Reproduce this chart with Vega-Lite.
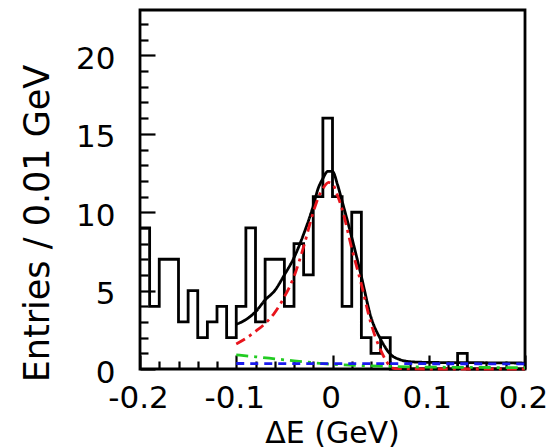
{
  "$schema": "https://vega.github.io/schema/vega-lite/v6.json",
  "width": 385,
  "height": 359,
  "autosize": "none",
  "padding": {"left": 140, "top": 10, "right": 32, "bottom": 79},
  "background": "white",
  "config": {
    "view": {"stroke": "black", "strokeWidth": 2.8},
    "axis": {"labelFont": "DejaVu Sans", "titleFont": "DejaVu Sans", "labelColor": "black", "titleColor": "black", "tickColor": "black", "grid": false, "domain": false, "tickWidth": 2.2, "labelFontWeight": "normal", "titleFontWeight": "normal"}
  },
  "datasets": {
    "hist": [
      {"de": -0.20, "n": 9}, {"de": -0.19, "n": 4}, {"de": -0.18, "n": 7}, {"de": -0.17, "n": 7},
      {"de": -0.16, "n": 3}, {"de": -0.15, "n": 5}, {"de": -0.14, "n": 2}, {"de": -0.13, "n": 3},
      {"de": -0.12, "n": 4}, {"de": -0.11, "n": 2}, {"de": -0.10, "n": 4}, {"de": -0.09, "n": 9},
      {"de": -0.08, "n": 3}, {"de": -0.07, "n": 7}, {"de": -0.06, "n": 7}, {"de": -0.05, "n": 4},
      {"de": -0.04, "n": 8}, {"de": -0.03, "n": 6}, {"de": -0.02, "n": 11}, {"de": -0.01, "n": 16},
      {"de": 0.00, "n": 11}, {"de": 0.01, "n": 4}, {"de": 0.02, "n": 10}, {"de": 0.03, "n": 2},
      {"de": 0.04, "n": 1}, {"de": 0.05, "n": 2}, {"de": 0.06, "n": 0}, {"de": 0.07, "n": 0},
      {"de": 0.08, "n": 0}, {"de": 0.09, "n": 0}, {"de": 0.10, "n": 0}, {"de": 0.11, "n": 0},
      {"de": 0.12, "n": 0}, {"de": 0.13, "n": 1}, {"de": 0.14, "n": 0}, {"de": 0.15, "n": 0},
      {"de": 0.16, "n": 0}, {"de": 0.17, "n": 0}, {"de": 0.18, "n": 0}, {"de": 0.19, "n": 0},
      {"de": 0.20, "n": 0}
    ],
    "fit": [
      {"comp": "total", "de": -0.1, "y": 2.85}, {"comp": "total", "de": -0.09, "y": 3.15},
      {"comp": "total", "de": -0.08, "y": 3.65}, {"comp": "total", "de": -0.07, "y": 4.4},
      {"comp": "total", "de": -0.06, "y": 5.0}, {"comp": "total", "de": -0.05, "y": 6.0},
      {"comp": "total", "de": -0.04, "y": 7.1}, {"comp": "total", "de": -0.03, "y": 8.6},
      {"comp": "total", "de": -0.02, "y": 10.4}, {"comp": "total", "de": -0.015, "y": 11.5},
      {"comp": "total", "de": -0.01, "y": 12.15}, {"comp": "total", "de": -0.005, "y": 12.6},
      {"comp": "total", "de": 0.0, "y": 12.6}, {"comp": "total", "de": 0.005, "y": 11.8},
      {"comp": "total", "de": 0.01, "y": 10.7}, {"comp": "total", "de": 0.02, "y": 8.4},
      {"comp": "total", "de": 0.03, "y": 5.9}, {"comp": "total", "de": 0.04, "y": 3.3},
      {"comp": "total", "de": 0.05, "y": 1.9}, {"comp": "total", "de": 0.06, "y": 0.95},
      {"comp": "total", "de": 0.07, "y": 0.6}, {"comp": "total", "de": 0.08, "y": 0.47},
      {"comp": "total", "de": 0.1, "y": 0.42}, {"comp": "total", "de": 0.15, "y": 0.4},
      {"comp": "total", "de": 0.2, "y": 0.38},
      {"comp": "signal", "de": -0.1, "y": 1.6}, {"comp": "signal", "de": -0.09, "y": 1.95},
      {"comp": "signal", "de": -0.08, "y": 2.4}, {"comp": "signal", "de": -0.07, "y": 2.9},
      {"comp": "signal", "de": -0.06, "y": 3.6}, {"comp": "signal", "de": -0.05, "y": 4.6},
      {"comp": "signal", "de": -0.04, "y": 5.9}, {"comp": "signal", "de": -0.03, "y": 7.8},
      {"comp": "signal", "de": -0.02, "y": 10.0}, {"comp": "signal", "de": -0.015, "y": 10.9},
      {"comp": "signal", "de": -0.01, "y": 11.5}, {"comp": "signal", "de": -0.004, "y": 11.9},
      {"comp": "signal", "de": 0.0, "y": 11.8}, {"comp": "signal", "de": 0.005, "y": 11.1},
      {"comp": "signal", "de": 0.01, "y": 10.2}, {"comp": "signal", "de": 0.02, "y": 7.7},
      {"comp": "signal", "de": 0.03, "y": 5.4}, {"comp": "signal", "de": 0.04, "y": 2.9},
      {"comp": "signal", "de": 0.05, "y": 1.2}, {"comp": "signal", "de": 0.055, "y": 0.6},
      {"comp": "signal", "de": 0.06, "y": 0.15}, {"comp": "signal", "de": 0.065, "y": 0.03},
      {"comp": "signal", "de": 0.1, "y": 0.0}, {"comp": "signal", "de": 0.2, "y": 0.0},
      {"comp": "bkg2", "de": -0.1, "y": 0.9}, {"comp": "bkg2", "de": -0.08, "y": 0.78},
      {"comp": "bkg2", "de": -0.06, "y": 0.65}, {"comp": "bkg2", "de": -0.04, "y": 0.52},
      {"comp": "bkg2", "de": -0.02, "y": 0.4}, {"comp": "bkg2", "de": 0.0, "y": 0.3},
      {"comp": "bkg2", "de": 0.05, "y": 0.18}, {"comp": "bkg2", "de": 0.1, "y": 0.12},
      {"comp": "bkg2", "de": 0.15, "y": 0.1}, {"comp": "bkg2", "de": 0.2, "y": 0.08},
      {"comp": "bkg1", "de": -0.1, "y": 0.35}, {"comp": "bkg1", "de": 0.2, "y": 0.33}
    ]
  },
  "layer": [
    {
      "data": {"name": "hist"},
      "mark": {"type": "line", "interpolate": "step-after", "color": "black", "strokeWidth": 2.8},
      "encoding": {
        "x": {"field": "de", "type": "quantitative", "scale": {"domain": [-0.2, 0.2], "nice": false, "zero": false},
          "axis": {"orient": "bottom", "values": [-0.2, -0.1, 0, 0.1, 0.2], "tickSize": -14, "labelPadding": 28, "labelFontSize": 31, "labelFlush": false, "labelOverlap": false, "labelOffset": -2,
            "labelExpr": "datum.value < 0 ? '-' + format(abs(datum.value), '.1~f') : format(datum.value, '.1~f')",
            "title": "ΔE (GeV)", "titleFontSize": 30, "titleBaseline": "alphabetic", "titleY": 73, "titleX": 192}},
        "y": {"field": "n", "type": "quantitative", "scale": {"domain": [0, 22.9], "nice": false},
          "axis": {"orient": "left", "values": [0, 5, 10, 15, 20], "tickSize": -15, "labelPadding": 40, "labelFontSize": 31, "labelOverlap": false, "labelOffset": 4,
            "title": "Entries / 0.01 GeV", "titleFontSize": 35, "titleAngle": -90, "titleBaseline": "alphabetic", "titleAlign": "center", "titleX": -92, "titleY": 213}}
      }
    },
    {
      "data": {"name": "fit"},
      "mark": {"type": "line", "interpolate": "monotone", "strokeWidth": 2.8},
      "encoding": {
        "x": {"field": "de", "type": "quantitative", "scale": {"domain": [-0.2, 0.2], "nice": false, "zero": false},
          "axis": {"orient": "bottom", "values": [-0.18, -0.16, -0.14, -0.12, -0.08, -0.06, -0.04, -0.02, 0.02, 0.04, 0.06, 0.08, 0.12, 0.14, 0.16, 0.18], "tickSize": -8, "labels": false, "title": null}},
        "y": {"field": "y", "type": "quantitative", "scale": {"domain": [0, 22.9], "nice": false},
          "axis": {"orient": "left", "values": [1, 2, 3, 4, 6, 7, 8, 9, 11, 12, 13, 14, 16, 17, 18, 19, 21, 22], "tickSize": -8, "labels": false, "title": null}},
        "color": {"field": "comp", "type": "nominal", "scale": {"domain": ["total", "signal", "bkg2", "bkg1"], "range": ["#000000", "#e8141c", "#22cc22", "#1a1aee"]}, "legend": null},
        "strokeDash": {"field": "comp", "type": "nominal", "scale": {"domain": ["total", "signal", "bkg2", "bkg1"], "range": [[1, 0], [10, 5, 3, 5], [12, 6, 3, 6], [8, 6]]}, "legend": null}
      }
    }
  ],
  "resolve": {"axis": {"x": "independent", "y": "independent"}}
}
